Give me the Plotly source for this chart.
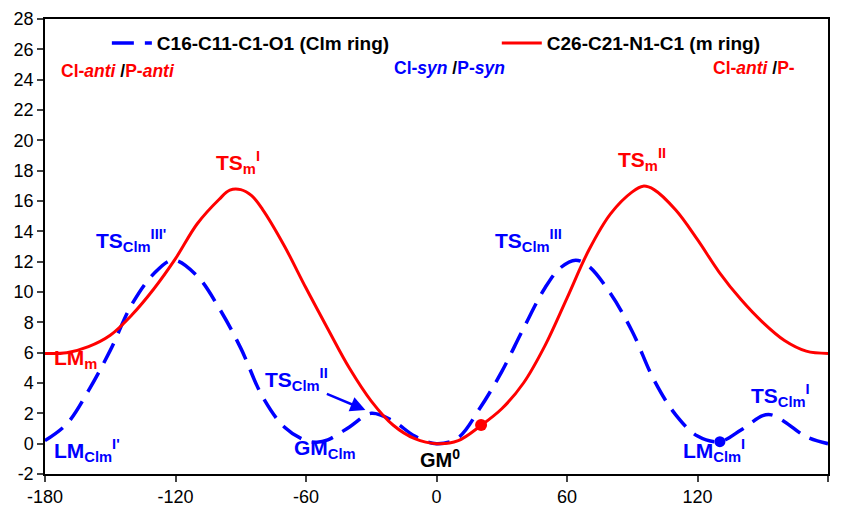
import plotly.graph_objects as go

# ---- data ----
red_x = [-180, -170, -160, -150, -140, -130, -120, -110, -100, -95, -90, -85, -80, -70, -60, -50, -40, -30, -20,
         -10, 0, 10, 20, 30, 40, 50, 60, 70, 80, 90, 95, 100, 110, 120, 130, 140, 150, 160, 170, 180]
red_y = [5.95, 6.0, 6.4, 7.15, 8.5, 10.2, 12.2, 14.5, 16.1, 16.72, 16.75, 16.35, 15.45, 13.05, 10.26, 7.58, 4.97,
         2.81, 1.23, 0.33, 0.0, 0.2, 1.15, 2.3, 4.0, 6.5, 9.6, 12.75, 15.15, 16.6, 16.98, 16.75, 15.4, 13.45,
         11.3, 9.5, 8.0, 6.8, 6.1, 5.95]

blue_x = [-180, -170, -160, -150, -140, -130, -121, -110, -100, -90, -80, -70, -60, -55, -50, -40,
          -30, -20, -10, 0, 10, 20, 30, 40, 50, 57, 64, 70, 80, 90, 100, 110, 120, 130, 140, 150, 154,
          160, 170, 180]
blue_y = [0.2, 1.3, 3.5, 6.15, 9.2, 11.2, 12.1, 11.05, 8.95, 6.3, 3.1, 1.1, 0.2, 0.1, 0.25, 1.1,
          2.0, 1.5, 0.5, 0.0, 0.4, 2.35, 4.75, 7.6, 10.3, 11.6, 12.1, 11.7, 9.9, 7.4, 4.2, 1.9, 0.5, 0.13,
          0.9, 1.85, 1.9, 1.45, 0.45, 0.0]

red_dot_x, red_dot_y = [20.5], [1.23]
blue_dot_x, blue_dot_y = [130.3], [0.13]

blue_name = "C16-C11-C1-O1 (Clm ring)"
red_name = "C26-C21-N1-C1 (m ring)"

x_ticks = [-180, -120, -60, 0, 60, 120, 180]
x_tick_text = ["-180", "-120", "-60", "0", "60", "120", "180"]
y_ticks = list(range(-2, 29, 2))
y_tick_text = [str(v) for v in y_ticks]

RED = "#ff0000"
BLUE = "#0000ff"
FONT = "Liberation Sans, Arial, sans-serif"

fig = go.Figure()
fig.add_trace(go.Scatter(x=blue_x, y=blue_y, mode="lines", name=blue_name, legend="legend",
                         line=dict(color=BLUE, width=3.5, dash="22px,11px", shape="spline", smoothing=1.0)))
fig.add_trace(go.Scatter(x=red_x, y=red_y, mode="lines", name=red_name, legend="legend2",
                         line=dict(color=RED, width=3, shape="spline", smoothing=1.0)))
fig.add_trace(go.Scatter(x=red_dot_x, y=red_dot_y, mode="markers", showlegend=False,
                         marker=dict(color=RED, size=12)))
fig.add_trace(go.Scatter(x=blue_dot_x, y=blue_dot_y, mode="markers", showlegend=False,
                         marker=dict(color=BLUE, size=11)))

ann = []


def add(text, x, y, color, size=21, xanchor="left"):
    ann.append(dict(text=text, x=x, y=y, xref="x", yref="y", showarrow=False, xanchor=xanchor,
                    yanchor="middle", font=dict(family=FONT, size=size, color=color, weight="bold")))


blk = "<span style='color:black'> /</span>"
add("Cl-<i>anti</i>" + blk + "P-<i>anti</i>", -173.5, 24.6, RED, size=17.5)
add("Cl-<i>syn</i>" + blk + "P-<i>syn</i>", -20.3, 24.8, BLUE, size=17.5)
add("Cl-<i>anti</i>" + blk + "P-", 126.2, 24.8, RED, size=17.5)

add("TS<sub>m</sub><sup>I</sup>", -102.3, 18.55, RED)
add("TS<sub>m</sub><sup>II</sup>", 82.6, 18.75, RED)
add("TS<sub>Clm</sub><sup>III'</sup>", -157.3, 13.4, BLUE)
add("TS<sub>Clm</sub><sup>III</sup>", 26.0, 13.4, BLUE)
add("LM<sub>m</sub>", -177.0, 5.6, RED)
add("TS<sub>Clm</sub><sup>II</sup>", -80.0, 4.25, BLUE)
add("GM<sub>Clm</sub>", -66.6, -0.35, BLUE)
add("GM<sup>0</sup>", -8.3, -0.95, "black", size=20)
add("LM<sub>Clm</sub><sup>I'</sup>", -177.0, -0.45, BLUE)
add("LM<sub>Clm</sub><sup>I</sup>", 112.4, -0.45, BLUE)
add("TS<sub>Clm</sub><sup>I</sup>", 143.7, 3.2, BLUE)

ann.append(dict(x=-32.7, y=2.22, ax=-51.1, ay=3.32, xref="x", yref="y", axref="x", ayref="y",
                text="", showarrow=True, arrowhead=2, arrowsize=1.2, arrowwidth=2.5, arrowcolor=BLUE))

leg_common = dict(orientation="h", y=0.947, xanchor="left", yanchor="middle",
                  bgcolor="rgba(0,0,0,0)", itemwidth=40,
                  font=dict(family=FONT, size=19, color="black", weight="bold"))

fig.update_layout(
    width=843, height=514,
    margin=dict(l=45, r=15, t=19, b=40),
    paper_bgcolor="white", plot_bgcolor="white",
    annotations=ann,
    legend=dict(x=0.079, **leg_common),
    legend2=dict(x=0.577, **leg_common),
    xaxis=dict(range=[-180, 180], tickvals=x_ticks, ticktext=x_tick_text, ticks="outside", ticklen=6,
               tickwidth=1.5, showline=True, linecolor="black", linewidth=1.5, mirror=True, showgrid=False,
               zeroline=False, automargin=False, tickfont=dict(family=FONT, size=18, color="black")),
    yaxis=dict(range=[-2, 28], tickvals=y_ticks, ticktext=y_tick_text, ticks="outside", ticklen=6,
               tickwidth=1.5, showline=True, linecolor="black", linewidth=1.5, mirror=True, showgrid=False,
               zeroline=False, automargin=False, tickfont=dict(family=FONT, size=18, color="black")),
)

fig.write_html("out.html", config={"displayModeBar": False},
               post_script="document.body.style.margin='0';")
